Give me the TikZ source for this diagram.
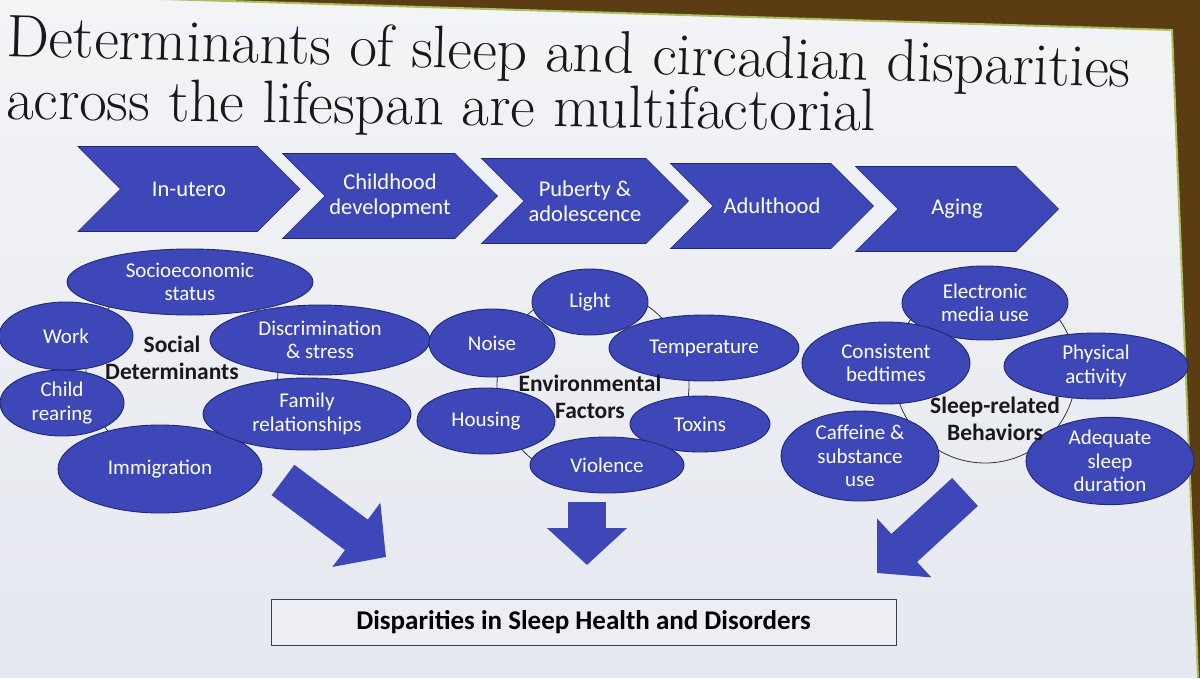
\documentclass[tikz,border=0pt]{standalone}
\usepackage{fontspec}
\newfontfamily\calibri{Carlito}
\usetikzlibrary{shapes.geometric,shapes.symbols,arrows.meta,positioning}
\definecolor{slideblue}{RGB}{61,71,184}
\definecolor{rimblue}{RGB}{34,40,115}
\definecolor{walnut}{RGB}{92,60,18}
\definecolor{rimgreen}{RGB}{170,192,96}
\definecolor{paper}{RGB}{236,238,243}
\definecolor{papertop}{RGB}{243,244,246}
\definecolor{paperbottom}{RGB}{229,232,239}

\begin{document}
\begin{tikzpicture}[x=1pt,y=-1pt,
     stage/.style = {signal, signal from=west, signal to=east, signal pointer angle=90,
      fill=slideblue, draw=rimblue, line width=0.6, text=white, align=center,
      minimum height=85, inner sep=0pt, font=\calibri\fontsize{22.5}{25}\selectfont},
     factor/.style = {ellipse, fill=slideblue, draw=rimblue, line width=0.9, text=white,
      align=center, inner sep=0pt, font=\calibri\fontsize{21}{23.5}\selectfont},
     ring/.style = {circle, draw=black!80, line width=0.8, inner sep=0pt},
     hub/.style = {align=center, text=black!90, font=\calibri\bfseries\fontsize{23.5}{27}\selectfont},
     bigarrow/.style = {draw=slideblue, line width=38, -{Triangle[length=37pt,width=78pt]}},
     outcome/.style = {draw=black!75, line width=0.8, fill=paper, minimum width=625,
      minimum height=46, font=\calibri\bfseries\fontsize{27}{30}\selectfont},
     heading/.style = {anchor=base west, inner sep=0pt, text=black!90,
      font=\fontsize{60}{66}\selectfont}
    ]
    \useasboundingbox (0,0) rectangle (1200,678);
    \fill[walnut] (0,0) rectangle (1200,678);
    \shade[top color=papertop, bottom color=paperbottom] (0,-6) -- (1172,30) -- (1198,678) -- (0,678) -- cycle;
    \draw[rimgreen, line width=2] (0,-6) -- (1172,30) -- (1198,678);

    \node[heading, rotate=-1.6] (title1) at (6,56) {Determinants of sleep and circadian disparities};
    \node[heading, rotate=-0.8] (title2) at (6,119) {across the lifespan are multifactorial};

    \node[stage, minimum width=222] (utero) at (189,189) {In-utero};
    \node[stage, minimum width=215] (childhood) at (390,196) {Childhood\\development};
    \node[stage, minimum width=207] (puberty) at (585,201) {Puberty \&\\adolescence};
    \node[stage, minimum width=203] (adult) at (772,206) {Adulthood};
    \node[stage, minimum width=203] (aging) at (957,209) {Aging};

    \node[ring, minimum size=192] (socring) at (182,370) {};
    \node[ring, minimum size=192] (envring) at (593,385) {};
    \node[ring, minimum size=182] (sleepring) at (985,372) {};

    \node[factor, minimum width=246, minimum height=66] (ses) at (190,282) {Socioeconomic\\status};
    \node[factor, minimum width=134, minimum height=68] (work) at (66,336) {Work};
    \node[factor, minimum width=124, minimum height=66] (rearing) at (62,403) {Child\\rearing};
    \node[factor, minimum width=204, minimum height=88] (immig) at (160,469) {Immigration};
    \node[factor, minimum width=220, minimum height=70] (discr) at (320,340) {Discrimination\\\& stress};
    \node[factor, minimum width=208, minimum height=72] (family) at (307,414) {Family\\relationships};
    \node[hub] (social) at (172,358) {Social\\Determinants};

    \node[factor, minimum width=116, minimum height=66] (light) at (590,302) {Light};
    \node[factor, minimum width=126, minimum height=68] (noise) at (492,343) {Noise};
    \node[factor, minimum width=190, minimum height=66] (temp) at (704,348) {Temperature};
    \node[factor, minimum width=138, minimum height=66] (housing) at (486,421) {Housing};
    \node[factor, minimum width=140, minimum height=56] (toxins) at (700,424) {Toxins};
    \node[factor, minimum width=154, minimum height=56] (violence) at (607,465) {Violence};
    \node[hub] (environ) at (590,397) {Environmental\\Factors};

    \node[factor, minimum width=166, minimum height=74] (media) at (985,303) {Electronic\\media use};
    \node[factor, minimum width=168, minimum height=82] (bedtimes) at (886,363) {Consistent\\bedtimes};
    \node[factor, minimum width=184, minimum height=66] (physical) at (1096,366) {Physical\\activity};
    \node[factor, minimum width=158, minimum height=90] (caffeine) at (860,456) {Caffeine \&\\substance\\use};
    \node[factor, minimum width=168, minimum height=70] (duration) at (1110,461) {Adequate\\sleep\\duration};
    \node[hub] (behav) at (995,419) {Sleep-related\\Behaviors};

    \node[outcome] (disparity) at (583.5,622) {Disparities in Sleep Health and Disorders};

    \coordinate (socfrom) at (283,480);
    \coordinate (socto) at (386,557);
    \coordinate (envfrom) at (587,502);
    \coordinate (envto) at (587,565);
    \coordinate (sleepfrom) at (965,492);
    \coordinate (sleepto) at (877,573);
    \draw[bigarrow] (socfrom) -- (socto);
    \draw[bigarrow] (envfrom) -- (envto);
    \draw[bigarrow] (sleepfrom) -- (sleepto);
\end{tikzpicture}
\end{document}
